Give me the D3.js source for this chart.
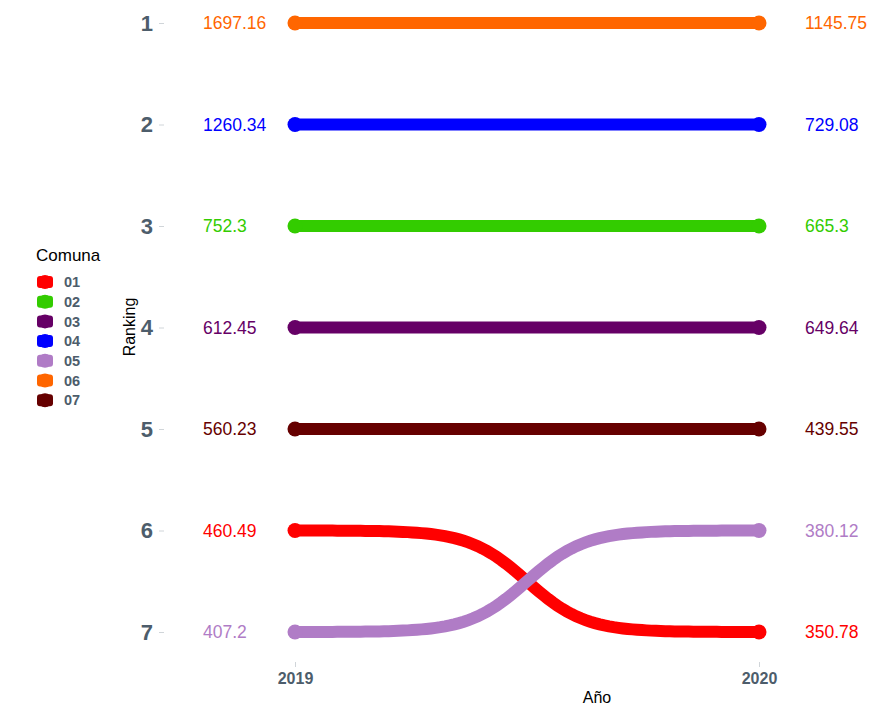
<!DOCTYPE html>
<html>
<head>
<meta charset="utf-8">
<script src="https://cdn.jsdelivr.net/npm/d3@7"></script>
<style>
  body { margin: 0; background: #fff; }
  text { font-family: "Liberation Sans", Arial, sans-serif; }
</style>
</head>
<body>
<script>
var comunas = ["01", "02", "03", "04", "05", "06", "07"];
var colores = ["#FF0000", "#33CC00", "#660066", "#0000FF", "#B07CC6", "#FF6600", "#660000"];
var years = [2019, 2020];
var rank2019 = [6, 3, 4, 2, 7, 1, 5];
var rank2020 = [7, 3, 4, 2, 6, 1, 5];
var valor2019 = ["460.49", "752.3", "612.45", "1260.34", "407.2", "1697.16", "560.23"];
var valor2020 = ["350.78", "665.3", "649.64", "729.08", "380.12", "1145.75", "439.55"];
var rankTicks = [1, 2, 3, 4, 5, 6, 7];

var width = 872, height = 706;

var svg = d3.select("body").append("svg")
    .attr("width", width)
    .attr("height", height);

var x = d3.scaleLinear().domain([2019, 2020]).range([295, 759]);
var y = d3.scaleLinear().domain([1, 7]).range([23, 632]);
var color = d3.scaleOrdinal().domain(comunas).range(colores);

var axisGrey = "#4D5D6B";

// y axis
var yAxis = svg.append("g").attr("transform", "translate(164,0)")
    .call(d3.axisLeft(y).tickValues(rankTicks).tickFormat(d3.format("d")).tickSize(5).tickPadding(6));
yAxis.select(".domain").remove();
yAxis.selectAll("line").attr("stroke", "#D0D5D9");
yAxis.selectAll("text").attr("font-size", 22).attr("font-weight", "bold").attr("fill", axisGrey);

// x axis
var xAxis = svg.append("g").attr("transform", "translate(0,662)")
    .call(d3.axisBottom(x).tickValues(years).tickFormat(d3.format("d")).tickSize(5).tickPadding(6));
xAxis.select(".domain").remove();
xAxis.selectAll("line").attr("stroke", "#D0D5D9");
xAxis.selectAll("text").attr("font-size", 16).attr("font-weight", "bold").attr("fill", axisGrey);

svg.append("text").attr("x", 597).attr("y", 703).attr("text-anchor", "middle")
    .attr("font-size", 16).attr("fill", "#000").text("Año");
svg.append("text").attr("transform", "translate(135,327) rotate(-90)").attr("text-anchor", "middle")
    .attr("font-size", 16).attr("fill", "#000").text("Ranking");

// sigmoid bump (ggbump style)
var smooth = 8, n = 100;
function bump(r0, r1) {
  var pts = [];
  for (var i = 0; i < n; i++) {
    var t = -smooth + 2 * smooth * i / (n - 1);
    var s = Math.exp(t) / (Math.exp(t) + 1);
    var xv = 2019 + (t + smooth) / (2 * smooth);
    pts.push([x(xv), y(r0 + s * (r1 - r0))]);
  }
  return pts;
}

var line = d3.line();
var rows = comunas.map(function(c, i) {
  return { comuna: c, r0: rank2019[i], r1: rank2020[i], v0: valor2019[i], v1: valor2020[i] };
});

var g = svg.append("g");
rows.forEach(function(d) {
  g.append("path")
      .attr("d", line(bump(d.r0, d.r1)))
      .attr("fill", "none")
      .attr("stroke", color(d.comuna))
      .attr("stroke-width", 12)
      .attr("stroke-linecap", "butt");
});
rows.forEach(function(d) {
  [[2019, d.r0], [2020, d.r1]].forEach(function(p) {
    g.append("circle").attr("cx", x(p[0])).attr("cy", y(p[1])).attr("r", 7.5)
        .attr("fill", color(d.comuna));
  });
});

// value labels
rows.forEach(function(d) {
  svg.append("text").attr("x", 203).attr("y", y(d.r0)).attr("dy", "0.36em")
      .attr("font-size", 17.5).attr("fill", color(d.comuna)).text(d.v0);
  svg.append("text").attr("x", 805).attr("y", y(d.r1)).attr("dy", "0.36em")
      .attr("font-size", 17.5).attr("fill", color(d.comuna)).text(d.v1);
});

// legend
var legend = svg.append("g").attr("transform", "translate(36,0)");
legend.append("text").attr("x", 0).attr("y", 261).attr("font-size", 17).attr("fill", "#000").text("Comuna");
var items = legend.selectAll(".item").data(comunas).enter().append("g")
    .attr("transform", function(d, i) { return "translate(0," + (282 + i * 19.7) + ")"; });
items.append("rect").attr("x", 1).attr("y", -6).attr("width", 16).attr("height", 12).attr("rx", 3)
    .attr("fill", function(d) { return color(d); });
items.append("circle").attr("cx", 9).attr("cy", 0).attr("r", 7)
    .attr("fill", function(d) { return color(d); });
items.append("text").attr("x", 28).attr("y", 0).attr("dy", "0.36em")
    .attr("font-size", 14.5).attr("font-weight", "bold").attr("fill", axisGrey)
    .text(function(d) { return d; });
</script>
</body>
</html>
